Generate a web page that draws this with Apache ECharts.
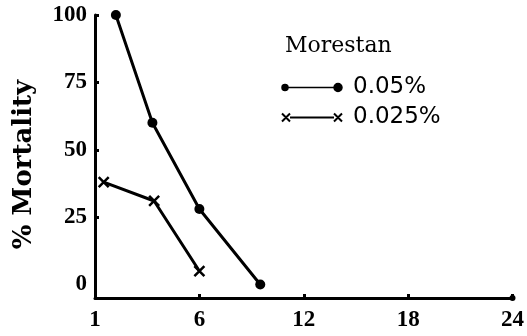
<!DOCTYPE html>
<html>
<head>
<meta charset="utf-8">
<script src="https://cdn.jsdelivr.net/npm/echarts@6/dist/echarts.min.js"></script>
<style>html,body{margin:0;padding:0;background:#fff;}#c{width:527px;height:336px;}</style>
</head>
<body>
<div id="c"></div>
<script>
// Tick labels
var xTickValues = [0, 6, 12, 18, 24];
var xTickLabels = ['1', '6', '12', '18', '24'];
var yTickValues = [0, 25, 50, 75, 100];

// Series: Morestan 0.05%
var hi_x = [1.2, 3.3, 6.0, 9.5];
var hi_y = [100, 60, 28, 0];
// Series: Morestan 0.025%
var lo_x = [0.5, 3.4, 6.0];
var lo_y = [38, 31, 5];

var seriesNames = ['0.05%', '0.025%'];
var legendTitle = 'Morestan';
var yName = '% Mortality';

function pairs(xs, ys) { return xs.map(function (x, i) { return [x, ys[i]]; }); }

var crossPath = 'path://M0,0L10,10M0,10L10,0';
var chart = echarts.init(document.getElementById('c'), null, {renderer: 'canvas'});
chart.setOption({
  animation: false,
  backgroundColor: '#fff',
  title: {
    text: legendTitle, left: 285, top: 35, padding: 0,
    textStyle: {fontFamily: 'DejaVu Serif', fontSize: 22, fontWeight: 'normal', color: '#000'}
  },
  legend: {
    orient: 'vertical', left: 281, top: 76, padding: 0, itemGap: 7,
    itemWidth: 60, itemHeight: 8,
    textStyle: {fontFamily: 'DejaVu Sans', fontSize: 23, color: '#000', padding: [0, 0, 0, 6]},
    data: [
      {name: seriesNames[0], icon: 'path://M0,4A3,3 0 1 1 6,4A3,3 0 1 1 0,4ZM6,4L52,4M52,4A4,4 0 1 1 60,4A4,4 0 1 1 52,4Z',
       itemStyle: {color: '#000', borderColor: '#000', borderWidth: 1.5}},
      {name: seriesNames[1], icon: 'path://M0,0L8,8M0,8L8,0M8,4L52,4M52,0L60,8M52,8L60,0',
       itemStyle: {color: '#000', borderColor: '#000', borderWidth: 2}}
    ]
  },
  grid: {left: 95, right: 12, top: 15, bottom: 38},
  xAxis: {
    type: 'value', min: 0, max: 24, interval: 6,
    axisLine: {onZero: false, lineStyle: {color: '#000', width: 3}, symbol: ['none', 'circle'], symbolSize: [6, 6]},
    axisTick: {inside: true, length: 4, lineStyle: {color: '#000', width: 3}},
    splitLine: {show: false},
    axisLabel: {
      margin: 11, color: '#000', fontFamily: 'Liberation Serif', fontWeight: 'bold', fontSize: 23,
      formatter: function (v) { var i = xTickValues.indexOf(v); return i >= 0 ? xTickLabels[i] : ''; }
    }
  },
  yAxis: {
    type: 'value', min: -5, max: 100,
    name: yName, nameLocation: 'middle', nameGap: 58,
    nameTextStyle: {fontFamily: 'DejaVu Serif', fontWeight: 'bold', fontSize: 26, color: '#000', padding: [0, 16, 0, 0]},
    axisLine: {show: true, onZero: false, lineStyle: {color: '#000', width: 3}},
    axisTick: {show: true, inside: true, length: 4, lineStyle: {color: '#000', width: 3}, customValues: [25, 50, 75, 100]},
    splitLine: {show: false},
    axisLabel: {
      margin: 8, color: '#000', fontFamily: 'Liberation Serif', fontWeight: 'bold', fontSize: 23,
      customValues: yTickValues
    }
  },
  series: [
    {
      name: seriesNames[0], type: 'line', data: pairs(hi_x, hi_y),
      symbol: 'circle', symbolSize: 10,
      lineStyle: {color: '#000', width: 3},
      itemStyle: {color: '#000', borderColor: '#000', borderWidth: 0}
    },
    {
      name: seriesNames[1], type: 'line', data: pairs(lo_x, lo_y),
      symbol: crossPath, symbolSize: 10,
      lineStyle: {color: '#000', width: 3},
      itemStyle: {color: '#000', borderColor: '#000', borderWidth: 2.5}
    }
  ]
});
</script>
</body>
</html>
